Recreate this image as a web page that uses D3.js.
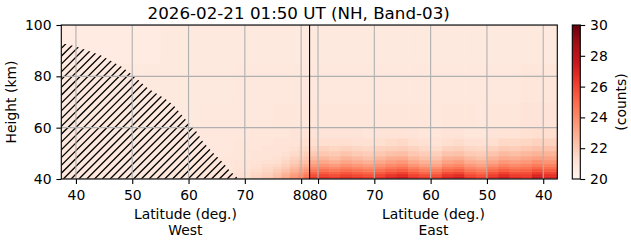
<html>
  <script src="https://cdn.jsdelivr.net/npm/d3@7"></script>
  <style>
    body { margin: 0; font-family: 'DejaVu Sans', sans-serif; }
  </style>
  <body>
    <svg id="vis" width="631" height="243"></svg>
    <script>
      title = "2026-02-21 01:50 UT (NH, Band-03)"

      westTicks = [40, 50, 60, 70, 80]
      eastTicks = [80, 70, 60, 50, 40]
      yTicks = [40, 60, 80, 100]
      cbTicks = [20, 22, 24, 26, 28, 30]

      turnLat = 81.5
      westStart = 37.4
      eastEnd = 37.5

      // row edges (km)
      heightEdges = [40, 41, 42, 43, 44, 45, 46, 47.5, 49, 51, 53, 56, 60, 70, 85, 100]

      // west side columns, values bottom -> top
      westEdges = [37.4, 45, 55, 62, 68, 71, 73, 75, 76.5, 78, 79.5, 80.5, 81.5]
      westValues = [
        [20.9,20.9,20.8,20.8,20.8,20.8,20.8,20.8,20.8,20.8,20.8,20.8,20.7,20.7,20.6],
        [20.9,20.9,20.8,20.8,20.8,20.8,20.8,20.8,20.8,20.8,20.8,20.7,20.7,20.7,20.6],
        [20.9,20.9,20.9,20.9,20.8,20.8,20.8,20.8,20.8,20.8,20.8,20.8,20.7,20.7,20.7],
        [21.0,21.0,20.9,20.9,20.9,20.9,20.9,20.9,20.8,20.8,20.8,20.8,20.8,20.7,20.7],
        [21.3,21.2,21.2,21.1,21.1,21.0,21.0,20.9,20.9,20.9,20.9,20.8,20.8,20.8,20.7],
        [21.7,21.6,21.5,21.4,21.3,21.2,21.1,21.0,21.0,20.9,20.9,20.9,20.8,20.8,20.7],
        [22.1,21.9,21.7,21.6,21.5,21.4,21.2,21.1,21.0,21.0,20.9,20.9,20.8,20.8,20.7],
        [22.6,22.3,22.1,21.9,21.7,21.5,21.3,21.2,21.1,21.0,21.0,20.9,20.9,20.8,20.7],
        [23.2,22.9,22.6,22.3,22.0,21.8,21.6,21.4,21.2,21.1,21.0,20.9,20.9,20.8,20.7],
        [23.9,23.5,23.1,22.8,22.5,22.2,21.9,21.7,21.4,21.2,21.1,21.0,20.9,20.8,20.7],
        [24.5,24.0,23.6,23.2,22.9,22.6,22.2,21.9,21.6,21.4,21.2,21.0,20.9,20.8,20.7],
        [25.0,24.5,24.0,23.6,23.2,22.8,22.4,22.1,21.8,21.5,21.3,21.1,20.9,20.8,20.7]
      ]

      // east side columns, from the turn point back south
      eastEdges = [81.5, 80, 78, 76, 74, 72, 70, 68, 66, 64, 62, 60, 58, 56, 54, 52, 50, 48, 46, 44, 42, 40, 37.5]
      eastValues = [
        [26.5,25.8,25.2,24.6,24.0,23.5,23.0,22.5,22.0,21.6,21.3,21.0,20.9,20.8,20.7],
        [26.7,26.0,25.4,24.8,24.2,23.7,23.1,22.6,22.1,21.7,21.3,21.0,20.9,20.8,20.7],
        [26.5,25.8,25.2,24.6,24.0,23.5,22.9,22.4,22.0,21.6,21.3,21.0,20.9,20.8,20.7],
        [26.8,26.1,25.5,24.9,24.3,23.8,23.2,22.7,22.2,21.7,21.3,21.0,20.9,20.8,20.7],
        [26.6,25.9,25.3,24.7,24.1,23.6,23.0,22.5,22.0,21.6,21.2,21.0,20.9,20.8,20.7],
        [26.4,25.7,25.1,24.5,23.9,23.4,22.8,22.3,21.9,21.5,21.2,20.9,20.9,20.8,20.7],
        [26.7,26.0,25.4,24.8,24.2,23.7,23.1,22.6,22.1,21.7,21.3,21.0,20.9,20.8,20.7],
        [27.2,26.5,25.8,25.2,24.6,24.0,23.4,22.9,22.3,21.8,21.4,21.1,20.9,20.8,20.7],
        [27.5,26.8,26.1,25.4,24.8,24.2,23.6,23.0,22.4,21.9,21.5,21.1,20.9,20.8,20.7],
        [26.8,26.1,25.5,24.9,24.3,23.7,23.1,22.6,22.1,21.7,21.3,21.0,20.9,20.8,20.7],
        [26.5,25.8,25.1,24.5,23.9,23.3,22.8,22.3,21.9,21.5,21.2,20.9,20.9,20.8,20.7],
        [26.4,25.7,25.0,24.4,23.8,23.2,22.7,22.2,21.8,21.4,21.1,20.9,20.8,20.8,20.7],
        [27.2,26.5,25.8,25.1,24.5,23.9,23.3,22.8,22.2,21.7,21.3,21.0,20.9,20.8,20.7],
        [27.5,26.8,26.0,25.3,24.7,24.1,23.5,22.9,22.3,21.8,21.4,21.0,20.9,20.8,20.7],
        [26.6,25.9,25.3,24.7,24.1,23.6,23.0,22.5,22.0,21.6,21.2,20.9,20.9,20.8,20.7],
        [26.3,25.6,25.0,24.4,23.8,23.3,22.8,22.3,21.9,21.5,21.2,20.9,20.8,20.8,20.7],
        [26.9,26.2,25.6,25.0,24.4,23.8,23.2,22.7,22.2,21.7,21.3,21.0,20.9,20.8,20.7],
        [27.5,26.8,26.1,25.4,24.8,24.2,23.6,23.0,22.5,22.0,21.5,21.1,20.9,20.8,20.7],
        [26.9,26.3,25.7,25.1,24.5,24.0,23.4,22.9,22.4,21.9,21.5,21.1,20.9,20.8,20.7],
        [26.7,26.2,25.7,25.2,24.7,24.2,23.6,23.1,22.6,22.1,21.6,21.2,21.0,20.9,20.7],
        [27.8,27.0,26.3,25.7,25.1,24.5,23.9,23.3,22.7,22.2,21.7,21.3,21.0,20.9,20.7],
        [27.2,26.6,26.0,25.4,24.8,24.3,23.7,23.2,22.7,22.2,21.7,21.3,21.0,20.9,20.7]
      ]

      // hatched (shadow) boundary on the west side
      shadowLat    = [37.4, 40, 44.3, 48.2, 50.5, 52.7, 55.9, 57.3, 60, 61, 62.6, 64.4, 66.2, 67.2, 68.9]
      shadowHeight = [93.0, 91.6, 88.3, 83.6, 79.7, 75.5, 71.2, 68.8, 61.8, 59.9, 54.4, 50.1, 46.2, 43.5, 40]

      redsColors = ['#fff5f0','#fee0d2','#fcbba1','#fc9272','#fb6a4a','#ef3b2c','#cb181d','#a50f15','#67000d']

      L = 61.3, R = 557.3, T = 25, B = 179
      tick = 4.9
      fs = 13.9
      hs = 7.8   // hatch spacing

      svg = d3.select("#vis")

      // one continuous along-track axis, split into two scales
      xAll = d3.scaleLinear().domain([westStart, 2 * turnLat - eastEnd]).range([L, R])
      xW = d3.scaleLinear().domain([westStart, turnLat]).range([L, xAll(turnLat)])
      xE = d3.scaleLinear().domain([turnLat, eastEnd]).range([xAll(turnLat), R])
      y = d3.scaleLinear().domain([40, 100]).range([B, T])

      color = d3.scaleLinear()
        .domain(redsColors.map((c, i) => 20 + i * 10 / (redsColors.length - 1)))
        .range(redsColors)
        .clamp(true)

      defs = svg.append("defs")
      defs.append("clipPath").attr("id", "clip")
        .append("rect").attr("x", L).attr("y", T).attr("width", R - L).attr("height", B - T)

      pts = shadowLat.map((d, i) => [xW(d), y(shadowHeight[i])])
      pts.push([xW(shadowLat[shadowLat.length - 1]), y(40)], [xW(westStart), y(40)])
      defs.append("clipPath").attr("id", "shadow")
        .append("path").attr("d", d3.line()(pts) + "Z")

      plot = svg.append("g").attr("clip-path", "url(#clip)")

      function drawCells(edges, values, sx) {
        values.forEach((col, i) => {
          x0 = sx(edges[i]); x1 = sx(edges[i + 1])
          col.forEach((v, j) => {
            plot.append("rect")
              .attr("x", Math.min(x0, x1))
              .attr("y", y(heightEdges[j + 1]))
              .attr("width", Math.abs(x1 - x0) + 0.5)
              .attr("height", y(heightEdges[j]) - y(heightEdges[j + 1]) + 0.5)
              .style("fill", color(v))
          })
        })
      }
      drawCells(westEdges, westValues, xW)
      drawCells(eastEdges, eastValues, xE)

      // hatch: 45 degree lines clipped to the shadow area
      hatch = plot.append("g").attr("clip-path", "url(#shadow)")
      for (c = L + T; c < R + B; c += hs) {
        hatch.append("line")
          .attr("x1", c - B).attr("y1", B).attr("x2", c - T).attr("y2", T)
          .style("stroke", "black").style("stroke-width", 1.3)
      }

      // grid
      grid = "#b0b0b0"
      westTicks.forEach(t => plot.append("line")
        .attr("x1", xW(t)).attr("x2", xW(t)).attr("y1", T).attr("y2", B)
        .style("stroke", grid).style("stroke-width", 1.1))
      eastTicks.forEach(t => plot.append("line")
        .attr("x1", xE(t)).attr("x2", xE(t)).attr("y1", T).attr("y2", B)
        .style("stroke", grid).style("stroke-width", 1.1))
      yTicks.forEach(t => plot.append("line")
        .attr("x1", L).attr("x2", R).attr("y1", y(t)).attr("y2", y(t))
        .style("stroke", grid).style("stroke-width", 1.1))

      // turn-point divider
      plot.append("line")
        .attr("x1", xW(turnLat)).attr("x2", xW(turnLat)).attr("y1", T).attr("y2", B)
        .style("stroke", "black").style("stroke-width", 1.1)

      svg.append("rect")
        .attr("x", L).attr("y", T).attr("width", R - L).attr("height", B - T)
        .style("fill", "none").style("stroke", "black").style("stroke-width", 1.1)

      function styleAxis(g) {
        g.select(".domain").remove()
        g.attr("font-family", "'DejaVu Sans', sans-serif").attr("font-size", fs)
        g.selectAll("line").style("stroke", "black").style("stroke-width", 1.1)
      }

      svg.append("g").attr("transform", `translate(0,${B})`)
        .call(d3.axisBottom(xW).tickValues(westTicks).tickSize(tick).tickPadding(6))
        .call(styleAxis)
      svg.append("g").attr("transform", `translate(0,${B})`)
        .call(d3.axisBottom(xE).tickValues(eastTicks).tickSize(tick).tickPadding(6))
        .call(styleAxis)
      svg.append("g").attr("transform", `translate(${L},0)`)
        .call(d3.axisLeft(y).tickValues(yTicks).tickSize(tick).tickPadding(4.9))
        .call(styleAxis)

      // labels
      svg.append("text").attr("x", 298.7).attr("y", 18.5)
        .attr("text-anchor", "middle").style("font-size", "16.7px").text(title)

      xLab = [["Latitude (deg.)", "West", (L + xAll(turnLat)) / 2],
              ["Latitude (deg.)", "East", (xAll(turnLat) + R) / 2]]
      xLab.forEach(d => {
        svg.append("text").attr("x", d[2]).attr("y", 218.5)
          .attr("text-anchor", "middle").style("font-size", fs + "px").text(d[0])
        svg.append("text").attr("x", d[2]).attr("y", 235)
          .attr("text-anchor", "middle").style("font-size", fs + "px").text(d[1])
      })

      svg.append("text")
        .attr("transform", `translate(11,${(T + B) / 2}) rotate(-90)`)
        .attr("dy", "0.35em").attr("text-anchor", "middle")
        .style("font-size", fs + "px").text("Height (km)")

      // colorbar
      cbL = 572.3, cbW = 8
      cy = d3.scaleLinear().domain([20, 30]).range([B, T])
      grad = defs.append("linearGradient").attr("id", "cbgrad")
        .attr("x1", 0).attr("y1", 1).attr("x2", 0).attr("y2", 0)
      redsColors.forEach((c, i) => grad.append("stop")
        .attr("offset", i / (redsColors.length - 1)).attr("stop-color", c))
      svg.append("rect").attr("x", cbL).attr("y", T).attr("width", cbW).attr("height", B - T)
        .style("fill", "url(#cbgrad)").style("stroke", "black").style("stroke-width", 1.1)
      svg.append("g").attr("transform", `translate(${cbL + cbW},0)`)
        .call(d3.axisRight(cy).tickValues(cbTicks).tickSize(tick).tickPadding(4.9))
        .call(styleAxis)

      svg.append("text")
        .attr("transform", `translate(621,${(T + B) / 2}) rotate(-90)`)
        .attr("dy", "0.35em").attr("text-anchor", "middle")
        .style("font-size", fs + "px").text("(counts)")
    </script>
  </body>
</html>
